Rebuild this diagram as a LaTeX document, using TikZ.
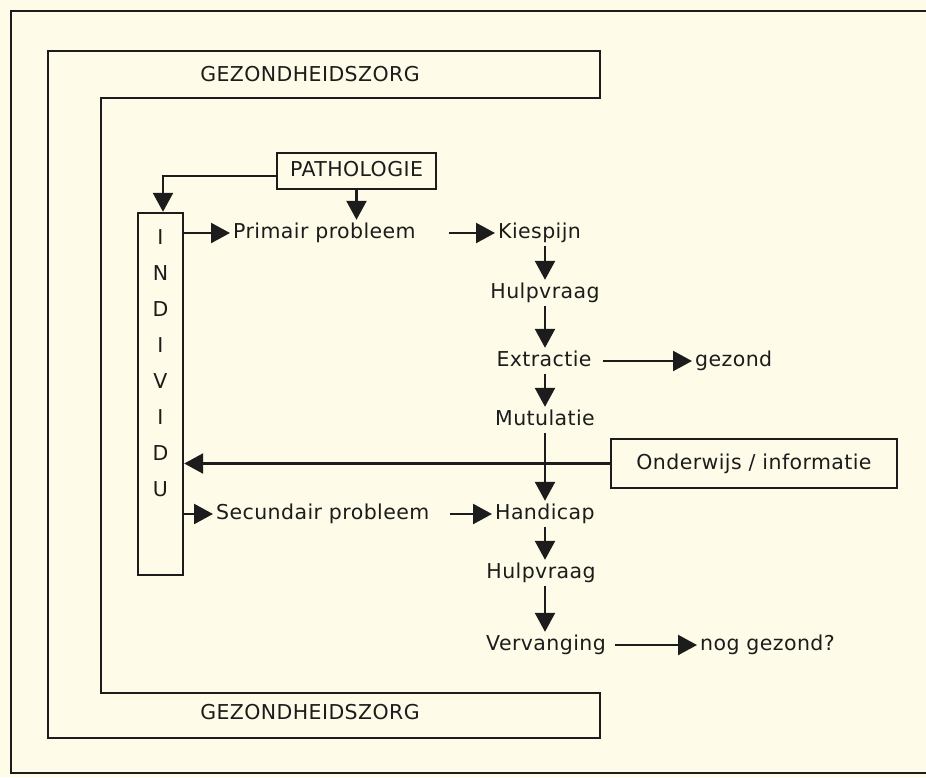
\documentclass[tikz,border=0pt]{standalone}
\usepackage{fontspec}
\setmainfont{DejaVu Sans}[LetterSpace=2]
\usetikzlibrary{arrows.meta}
\definecolor{paper}{RGB}{254,252,232}
\definecolor{ink}{RGB}{28,28,28}
\tikzset{
  ln/.style={draw=ink, line width=2.4pt},
  arr/.style={ln, -{Triangle[length=19pt,width=20pt]}},
  lbl/.style={text=ink, font=\fontsize{20.5}{24}\selectfont, text height=15pt, text depth=4pt, inner xsep=3pt, inner ysep=3.5pt},
  boxed/.style={lbl, draw=ink, line width=2.4pt},
  letter/.style={text=ink, font=\fontsize{20.5}{24}\selectfont, inner sep=0pt},
}
\begin{document}
\begin{tikzpicture}[x=1pt,y=-1pt]
\useasboundingbox (0,0) rectangle (926,777);
\fill[paper] (0,0) rectangle (926,777);
% outer frame
\coordinate (f1) at (926,11);
\coordinate (f2) at (11,11);
\coordinate (f3) at (11,773);
\coordinate (f4) at (926,773);
\draw[ln, line width=2pt] (f1) -- (f2) -- (f3) -- (f4);
% Gezondheidszorg L-shape
\draw[ln] (48,51) -- (600,51) -- (600,98) -- (101,98) -- (101,693) -- (600,693) -- (600,738) -- (48,738) -- cycle;
\node[lbl] (gz1) at (310,76) {GEZONDHEIDSZORG};
\node[lbl] (gz2) at (310,714) {GEZONDHEIDSZORG};
% Pathologie
\node[boxed, minimum width=159pt, minimum height=36pt, inner ysep=0pt] (path) at (356.5,171) {PATHOLOGIE};
% Individu
\node[draw=ink, line width=2.4pt, minimum width=45pt, minimum height=362pt, inner sep=0pt] (ind) at (160.5,394) {};
\foreach \l [count=\i from 0] in {I,N,D,I,V,I,D,U} {
  \node[letter] (l\i) at (160.5,{237+36*\i}) {\l};
}
% flow nodes
\node[lbl, anchor=west] (prim) at (230,233) {Primair probleem};
\node[lbl, anchor=west] (kies) at (495,233) {Kiespijn};
\node[lbl] (hulp1) at (545,293) {Hulpvraag};
\node[lbl] (extr) at (544,361) {Extractie};
\node[lbl, anchor=west] (gez) at (692,361) {gezond};
\node[lbl] (mut) at (545,420) {Mutulatie};
\node[boxed, minimum width=286pt, minimum height=49pt, inner ysep=0pt] (ond) at (754,463.5) {Onderwijs / informatie};
\node[lbl, anchor=west] (sec) at (213,514) {Secundair probleem};
\node[lbl, anchor=west] (hand) at (492,514) {Handicap};
\node[lbl] (hulp2) at (541,573) {Hulpvraag};
\node[lbl] (verv) at (546,645) {Vervanging};
\node[lbl, anchor=west] (nog) at (697,645) {nog gezond?};
% connectors
\coordinate (pl) at ([yshift=-5pt]path.west);
\draw[arr] (pl) -| ([xshift=2.5pt]ind.north);
\draw[arr] (path.south) -- (path.south |- prim.north);
\draw[arr] (ind.east |- prim) -- (prim.west);
\draw[arr] ([xshift=30pt]prim.east) -- (kies.west);
\draw[arr] (kies.south -| hulp1) -- (hulp1.north);
\draw[arr] (hulp1.south) -- (hulp1.south |- extr.north);
\draw[arr] ([xshift=8pt]extr.east) -- (gez.west);
\draw[arr] (extr.south -| hulp1) -- (hulp1 |- mut.north);
\draw[arr] (mut.south) -- (mut.south |- hand.north);
\draw[arr] (ond.west) -- (ind.east |- ond.west);
\draw[arr] (ind.east |- sec) -- (sec.west);
\draw[arr] ([xshift=18pt]sec.east) -- (hand.west);
\draw[arr] (hand.south -| mut) -- (mut |- hulp2.north);
\draw[arr] (hulp2.south -| mut) -- (mut |- verv.north);
\draw[arr] ([xshift=6pt]verv.east) -- (nog.west);
\end{tikzpicture}
\end{document}
